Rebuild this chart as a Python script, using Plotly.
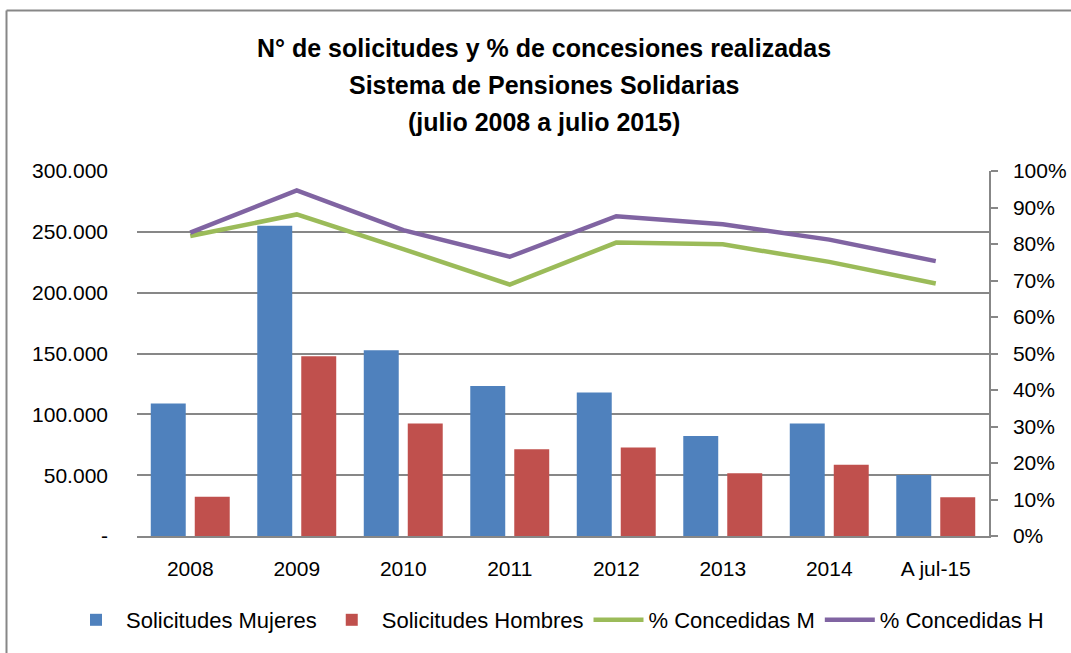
import plotly.graph_objects as go

categories = ["2008", "2009", "2010", "2011", "2012", "2013", "2014", "A jul-15"]
solicitudes_mujeres = [109000, 255000, 152700, 123200, 118000, 82100, 92500, 50100]
solicitudes_hombres = [32300, 147800, 92500, 71200, 72800, 51500, 58600, 31800]
pct_concedidas_m = [0.822, 0.881, 0.786, 0.689, 0.804, 0.799, 0.751, 0.692]
pct_concedidas_h = [0.831, 0.947, 0.838, 0.765, 0.876, 0.854, 0.812, 0.753]
left_ticks = [0, 50000, 100000, 150000, 200000, 250000, 300000]
left_tick_labels = ["-", "50.000", "100.000", "150.000", "200.000", "250.000", "300.000"]
right_ticks = [i / 10 for i in range(11)]
right_tick_labels = [f"{i*10}%" for i in range(11)]
title_lines = ["N° de solicitudes y % de concesiones realizadas",
               "Sistema de Pensiones Solidarias",
               "(julio 2008 a julio 2015)"]

FONT = "Liberation Sans"
W, H = 1071, 653
L, R, T, B = 137, 82, 171, 117
pw, ph = W - L - R, H - T - B

def px(x):
    return (x - L) / pw

def py(y):
    return 1 - (y - T) / ph

fig = go.Figure()
fig.add_trace(go.Bar(x=categories, y=solicitudes_mujeres, name="Solicitudes Mujeres",
                     marker=dict(color="#4F81BD", line=dict(width=0))))
fig.add_trace(go.Bar(x=categories, y=solicitudes_hombres, name="Solicitudes Hombres",
                     marker=dict(color="#C0504D", line=dict(width=0))))
fig.add_trace(go.Scatter(x=categories, y=pct_concedidas_m, name="% Concedidas M", yaxis="y2",
                         mode="lines", line=dict(color="#9BBB59", width=4.5)))
fig.add_trace(go.Scatter(x=categories, y=pct_concedidas_h, name="% Concedidas H", yaxis="y2",
                         mode="lines", line=dict(color="#8064A2", width=4.5)))

fig.update_layout(
    width=W, height=H,
    margin=dict(l=L, r=R, t=T, b=B, autoexpand=False),
    paper_bgcolor="white", plot_bgcolor="white",
    font=dict(family=FONT, size=21, color="black"),
    barmode="group", bargap=0.174, bargroupgap=0.205,
    xaxis=dict(showgrid=False, showline=True, linecolor="#878787", linewidth=1.5,
               ticks="", tickfont=dict(size=21), ticklabelstandoff=13),
    yaxis=dict(range=[0, 300000], tickvals=left_ticks, ticktext=left_tick_labels,
               showgrid=True, gridcolor="#878787", gridwidth=1.5, showline=False,
               zeroline=False, ticks="", ticklabelstandoff=28, tickfont=dict(size=21)),
    yaxis2=dict(range=[0, 1], tickvals=right_ticks, ticktext=right_tick_labels,
                overlaying="y", side="right", showgrid=False, showline=True,
                linecolor="#878787", linewidth=1.5, ticks="outside", ticklen=7,
                tickcolor="#878787", tickwidth=1.5, zeroline=False,
                ticklabelstandoff=11, tickfont=dict(size=21)),
    legend=dict(orientation="h", xref="paper", yref="paper",
                x=px(66), xanchor="left", y=py(620), yanchor="middle",
                font=dict(size=22), itemwidth=50, tracegroupgap=0),
    showlegend=True,
)

for line, yc in zip(title_lines, [48, 85, 122]):
    fig.add_annotation(text=f"<b>{line}</b>", xref="paper", yref="paper",
                       x=px(543.5), y=py(yc), xanchor="center", yanchor="middle",
                       showarrow=False, font=dict(family=FONT, size=25, color="black"))

fig.add_shape(type="line", xref="paper", yref="paper", x0=px(6.5), x1=px(1075),
              y0=py(10.5), y1=py(10.5), line=dict(color="#878787", width=2))
fig.add_shape(type="line", xref="paper", yref="paper", x0=px(6.5), x1=px(6.5),
              y0=py(10.5), y1=py(660), line=dict(color="#878787", width=2))

fig.write_html("out.html", config={"displayModeBar": False},
               post_script="document.body.style.margin='0';document.body.style.padding='0';")
